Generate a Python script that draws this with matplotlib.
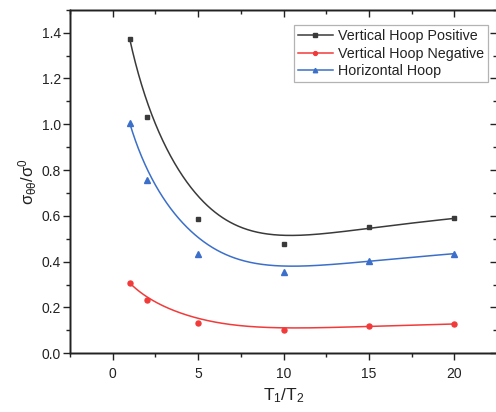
import numpy as np
import matplotlib
matplotlib.use('Agg')
import matplotlib.pyplot as plt
from matplotlib.lines import Line2D
from matplotlib.ticker import MultipleLocator

plt.rcParams['font.family'] = ['Liberation Sans', 'DejaVu Sans']
plt.rcParams['mathtext.fontset'] = 'custom'
plt.rcParams['mathtext.rm'] = 'Liberation Sans'
plt.rcParams['mathtext.it'] = 'Liberation Sans'

# data
ratio = [1, 2, 5, 10, 15, 20]
vert_pos = [1.371, 1.031, 0.586, 0.479, 0.550, 0.589]
vert_neg = [0.307, 0.231, 0.131, 0.102, 0.118, 0.128]
horiz = [1.004, 0.755, 0.434, 0.355, 0.404, 0.435]
labels = ['Vertical Hoop Positive', 'Vertical Hoop Negative', 'Horizontal Hoop']
colors = ['#3a3a3a', '#f23a3a', '#3b6fc9']
markers = ['s', 'o', '^']
msizes = [3.2, 3.6, 4.0]


def bspline(xs, ys, k=3, num=400):
    # clamped cubic B-spline using the points as control points (Origin style)
    pts = np.column_stack([xs, ys]).astype(float)
    n = len(pts)
    t = np.concatenate([[0.0] * k, np.linspace(0, 1, n - k + 1), [1.0] * k])
    u = np.linspace(0, 1, num)
    B = np.zeros((num, len(t) - 1))
    for i in range(len(t) - 1):
        B[:, i] = (t[i] <= u) & (u < t[i + 1])
    B[-1, n - 1] = 1.0
    for p in range(1, k + 1):
        nb = np.zeros((num, len(t) - 1 - p))
        for i in range(len(t) - 1 - p):
            d1 = t[i + p] - t[i]
            d2 = t[i + p + 1] - t[i + 1]
            if d1 > 0:
                nb[:, i] += (u - t[i]) / d1 * B[:, i]
            if d2 > 0:
                nb[:, i] += (t[i + p + 1] - u) / d2 * B[:, i + 1]
        B = nb
    c = B @ pts
    return c[:, 0], c[:, 1]


fig = plt.figure(figsize=(4.96, 4.12), dpi=100)
ax = fig.add_axes([70 / 496, 58.7 / 412, 427 / 496, 343.6 / 412])

handles = []
for ys, lab, col, mk, ms in zip([vert_pos, vert_neg, horiz], labels, colors, markers, msizes):
    cx, cy = bspline(ratio, ys)
    ax.plot(cx, cy, color=col, lw=1.1)
    ax.plot(ratio, ys, linestyle='none', marker=mk, ms=ms, color=col, mec=col)
    handles.append(Line2D([0], [0], color=col, lw=1.1, marker=mk, ms=ms - 0.8, label=lab))

ax.set_xlim(-2.5, 22.5)
ax.set_ylim(0, 1.5)
ax.xaxis.set_major_locator(MultipleLocator(5))
ax.xaxis.set_minor_locator(MultipleLocator(2.5))
ax.yaxis.set_major_locator(MultipleLocator(0.2))
ax.yaxis.set_minor_locator(MultipleLocator(0.1))
ax.yaxis.set_major_formatter(matplotlib.ticker.FormatStrFormatter('%.1f'))

for s in ax.spines.values():
    s.set_linewidth(1.0)
    s.set_color('#222222')

ax.tick_params(axis='both', which='major', direction='out', length=5, width=1.0,
               labelsize=10, colors='#222222', labelcolor='#222222')
ax.tick_params(axis='both', which='minor', direction='out', length=3, width=1.0,
               colors='#222222')
ax.tick_params(axis='x', which='major', pad=5)
ax.tick_params(axis='y', which='major', pad=1.5)

# inward ticks on the top and right
ax2 = ax.twinx()
ax2.set_ylim(ax.get_ylim())
ax2.yaxis.set_major_locator(MultipleLocator(0.2))
ax2.yaxis.set_minor_locator(MultipleLocator(0.1))
ax2.tick_params(axis='y', which='major', direction='in', length=5, width=1.0,
                labelright=False, colors='#222222')
ax2.tick_params(axis='y', which='minor', direction='in', length=3, width=1.0,
                colors='#222222')
ax3 = ax.twiny()
ax3.set_xlim(ax.get_xlim())
ax3.xaxis.set_major_locator(MultipleLocator(5))
ax3.xaxis.set_minor_locator(MultipleLocator(2.5))
ax3.tick_params(axis='x', which='major', direction='in', length=5, width=1.0,
                labeltop=False, colors='#222222')
ax3.tick_params(axis='x', which='minor', direction='in', length=3, width=1.0,
                colors='#222222')
for a in (ax2, ax3):
    for s in a.spines.values():
        s.set_linewidth(1.0)
        s.set_color('#222222')

ax.set_xlabel(r'$\mathregular{T_1/T_2}$', fontsize=12.5, labelpad=4, color='#222222')
ax.set_ylabel(r'$\mathregular{\sigma_{\theta\theta}/\sigma^0}$', fontsize=12, labelpad=2,
              color='#222222')

leg = ax3.legend(handles=handles, loc='upper left', bbox_to_anchor=(224 / 427, 1 - 15.5 / 343.6),
                 fontsize=10.3, frameon=True, fancybox=False, edgecolor='#a0a0a0',
                 handlelength=2.4, handletextpad=0.35, borderpad=0.3, labelspacing=0.22,
                 borderaxespad=0)
leg.get_frame().set_linewidth(0.9)
for txt in leg.get_texts():
    txt.set_color('#222222')

fig.savefig('out.png', dpi=100)
